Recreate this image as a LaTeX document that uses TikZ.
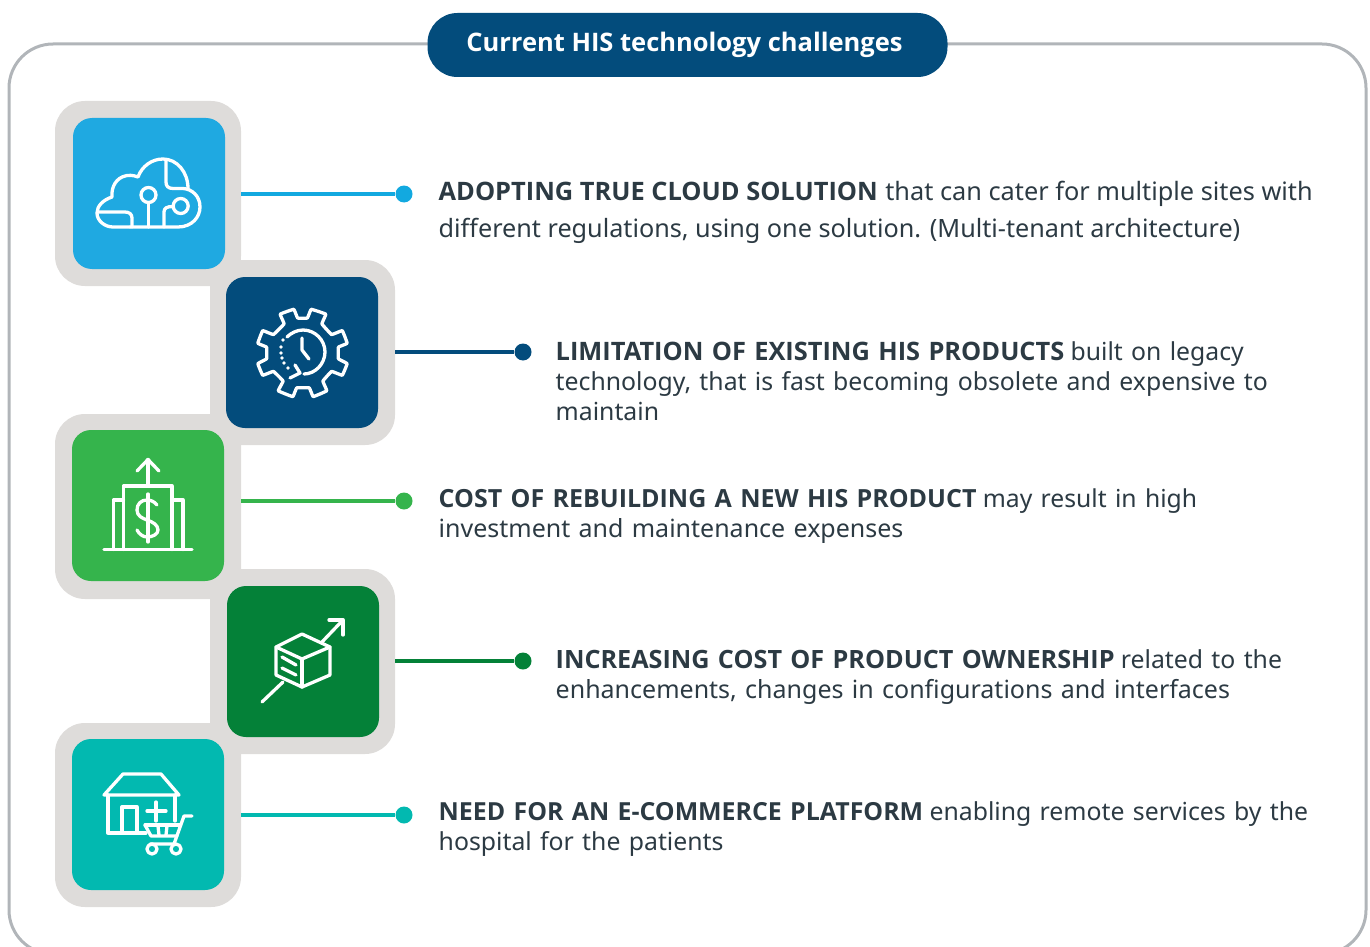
\documentclass[tikz,border=0pt]{standalone}
\usepackage{fontspec}
\setmainfont{Noto Sans}
\newfontfamily\osf{Open Sans}
\newcommand{\bdt}[2]{{\fontsize{#1}{30}\osf\bfseries #2}}
\newcommand{\fsz}[1]{\fontsize{#1}{30}\selectfont}
\definecolor{cframe}{HTML}{B1B5B9}
\definecolor{chalo}{HTML}{DEDCDA}
\definecolor{cnavy}{HTML}{034C7C}
\definecolor{csky}{HTML}{1FA9E1}
\definecolor{cline}{HTML}{12A9E0}
\definecolor{cgreen}{HTML}{35B44C}
\definecolor{cdgreen}{HTML}{048138}
\definecolor{cteal}{HTML}{02B9B0}
\definecolor{ctext}{HTML}{2C3A43}
\tikzset{
 x=1pt,y=-1pt,
 halo/.style={fill=chalo,rounded corners=30pt},
 tile/.style={rounded corners=19pt},
 ico/.style={draw=white,line width=3.3pt,line cap=round,line join=round},
 leader/.style={line width=3.4pt},
 dotn/.style={circle,inner sep=0pt,minimum size=17pt},
 body/.style={anchor=base west,align=left,inner sep=0pt,text=ctext,font=\fsz{25}},
}
\begin{document}
\begin{tikzpicture}
\useasboundingbox (0,0) rectangle (1370,947);
\begin{scope}
\clip (0,0) rectangle (1370,947);
\draw[cframe,line width=3pt,rounded corners=44pt] (9,44) rectangle (1366,954);
\end{scope}
\node[fill=cnavy,text=white,rounded corners=30pt,minimum width=520pt,minimum height=64pt,inner sep=0pt,font=\fsz{25.5}] (title) at (687.5,45) {\hspace*{-6pt}\bdt{25.5}{Current HIS technology challenges}};
% halos
\fill[halo] (210,260) rectangle (395,445);
\fill[halo] (210,569) rectangle (395,754);
\fill[halo] (55,101) rectangle (241,286);
\fill[halo] (55,414) rectangle (241,599);
\fill[halo] (55,723) rectangle (241,907);
\fill[chalo] (210,250) rectangle (241,290);
\fill[chalo] (210,410) rectangle (241,450);
\fill[chalo] (210,560) rectangle (241,603);
\fill[chalo] (210,720) rectangle (241,758);
% tiles
\fill[csky,tile] (73,118) rectangle (225,269);
\fill[cnavy,tile] (226,277) rectangle (378,428);
\fill[cgreen,tile] (72,430) rectangle (224,581);
\fill[cdgreen,tile] (227,586) rectangle (379,737);
\fill[cteal,tile] (72,739) rectangle (224,890);
% leaders
\node[dotn,fill=cline] (d1) at (404,194) {};
\node[dotn,fill=cnavy] (d2) at (523,352) {};
\node[dotn,fill=cgreen] (d3) at (404,501) {};
\node[dotn,fill=cdgreen] (d4) at (523,661) {};
\node[dotn,fill=cteal] (d5) at (404,815) {};
\coordinate (s1) at (241,194);
\coordinate (s2) at (395,352);
\coordinate (s3) at (241,501);
\coordinate (s4) at (395,661);
\coordinate (s5) at (241,815);
\draw[leader,cline] (s1) -- (d1);
\draw[leader,cnavy] (s2) -- (d2);
\draw[leader,cgreen] (s3) -- (d3);
\draw[leader,cdgreen] (s4) -- (d4);
\draw[leader,cteal] (s5) -- (d5);
% texts
\node[body] (t1a) at (438.5,200) {\bdt{25.4}{ADOPTING TRUE CLOUD SOLUTION}\kern1pt\fsz{25.3} that can cater for multiple sites with};
\node[body] (t1b) at (438.5,237) {\fsz{25.2}different regulations, using one solution. (Multi-tenant architecture)};
\node[body,text width=760pt] (t2) at (555.5,360) {\bdt{25.4}{LIMITATION OF EXISTING HIS PRODUCTS}\kern-2pt\fsz{24.75} built on legacy\\\fsz{24.8}technology, that is fast becoming obsolete and expensive to\\maintain};
\node[body,text width=820pt] (t3) at (438.5,507) {\bdt{25}{COST OF REBUILDING A NEW HIS PRODUCT}\kern-2pt\fsz{24.7} may result in high\\\fsz{25}investment and maintenance expenses};
\node[body,text width=760pt] (t4) at (555.5,668) {\bdt{25.2}{INCREASING COST OF PRODUCT OWNERSHIP}\kern-2pt\fsz{24.8} related to the\\\fsz{25}enhancements, changes in configurations and interfaces};
\node[body,text width=900pt] (t5) at (438.5,820) {\bdt{24.9}{NEED FOR AN E-COMMERCE PLATFORM}\kern-2pt\fsz{24.8} enabling remote services by the\\hospital for the patients};
% cloud icon
\begin{scope}[ico]
\draw (130,227) -- (178,227) .. controls (192,227) and (200,217) .. (200,207)
 .. controls (200,196) and (192,189) .. (183,188.5) -- (173,188.5) .. controls (168,188.5) and (166,186) .. (166,182)
 -- (166,160);
\draw (188,188.5) .. controls (188,172) and (177,159) .. (163,159) .. controls (152,159) and (142,166) .. (138,177)
 .. controls (133,175) and (128,175) .. (125,176) .. controls (117,178) and (111,186) .. (112,197)
 .. controls (103,200) and (97,206) .. (97,213) .. controls (97,221) and (105,227) .. (113,227) -- (130,227);
\draw (98,212) -- (125,212) .. controls (129,212) and (132,214) .. (132,218) -- (132,227);
\draw (148.5,227) -- (148.5,203);
\draw (148.5,195) circle (7.5);
\draw (164,227) -- (164,212) .. controls (164,208) and (167,206.5) .. (173,206.5);
\draw (180.7,206) circle (7.5);
\end{scope}
% gear icon
\begin{scope}[shift={(302.5,352)},scale=0.97,ico]
\draw plot[smooth cycle,tension=0.12] coordinates {
(-9,-44)(-23,-39)(-19,-29)(-30,-18)(-41,-22)(-46,-9)(-37,-5)(-37,7)(-46,12)(-41,24)(-30,20)(-20,30)(-25,40)(-10,46)(-6,37)(7,37)(11,46)(25,40)(21,30)(30,20)(41,24)(46,12)(37,7)(37,-5)(46,-9)(41,-22)(30,-18)(20,-29)(24,-39)(9,-44)(5,-35)(-5,-35)};
\end{scope}
\begin{scope}[ico]
\draw (287,337) .. controls (291,333) and (297,330) .. (303,330) .. controls (315,330) and (325,340) .. (325,352) .. controls (325,364) and (315,374) .. (304,374);
\draw (302,338) -- (302,350) -- (309,359);
\draw (295,365) -- (300,373) -- (290,378);
\foreach \p in {(283,340),(281,347),(281,353),(282,358),(284,363),(288,368)} \fill[white,draw=none] \p circle (1.8);
\end{scope}
% dollar icon
\begin{scope}[ico]
\draw (104,549.5) -- (192,549.5);
\draw (148,485) -- (148,459.5);
\draw (137,471) -- (148,459.5) -- (159,471);
\draw (123.5,549.5) -- (123.5,486) -- (172,486) -- (172,549.5);
\draw (123.5,500) -- (113.5,500) -- (113.5,549.5);
\draw (172,500) -- (183,500) -- (183,549.5);
\draw (148,494) -- (148,542);
\draw (157,505) .. controls (154,501) and (150,500) .. (147,500) .. controls (141,500) and (137,504) .. (137,510) .. controls (137,516) and (142,518) .. (147,520) .. controls (153,522) and (158,525) .. (158,530) .. controls (158,534) and (153,537) .. (147,537) .. controls (143,537) and (139,534) .. (137,530);
\end{scope}
% box icon
\begin{scope}[ico]
\draw (276,647) -- (302,634) -- (330,647) -- (330,675) -- (302,687) -- (276,675) -- cycle;
\draw (276,647) -- (302,659) -- (330,647);
\draw (302,659) -- (302,687);
\draw (282,657) -- (296,665);
\draw (282,668) -- (296,675);
\draw (322,642) -- (343,620);
\draw (329,620) -- (343,620) -- (343,635);
\draw (262,702) -- (283,682);
\end{scope}
% shop icon
\begin{scope}[ico]
\draw (104,795) -- (123,774) -- (161,774) -- (179,795) -- cycle;
\draw (108,795) -- (108,833) -- (146,833);
\draw (175,795) -- (175,821);
\draw (122,833) -- (122,807) -- (137,807) -- (137,833);
\draw (147,811) -- (166,811);
\draw (156,802) -- (156,821);
\draw (145,825) -- (180,825);
\draw (145,825) -- (151,836) -- (177,836);
\draw (192,816) -- (184,816) -- (174,844) -- (150,844);
\draw (158,826) -- (159,835);
\draw (167,826) -- (166,835);
\draw (152,849) circle (5);
\draw (176,849) circle (5);
\end{scope}
\end{tikzpicture}
\end{document}
